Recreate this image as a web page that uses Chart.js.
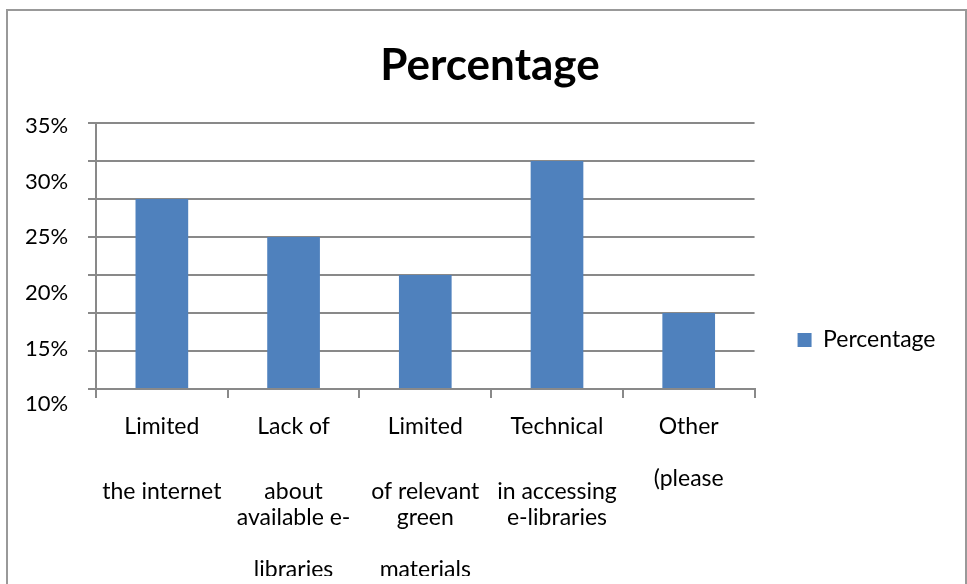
<!DOCTYPE html>
<html>
<head>
<meta charset="utf-8">
<title>Percentage</title>
<script src="https://cdn.jsdelivr.net/npm/chart.js@4.4.1/dist/chart.umd.min.js"></script>
<style>
    html, body { margin: 0; padding: 0; background: #fff; }
    #wrap { position: relative; width: 967px; height: 584px; overflow: hidden; }
    #frame { position: absolute; left: 6px; top: 9px; width: 957px; height: 640px; border: 2px solid #999; }
    #chart-box { position: absolute; left: 0; top: 0; width: 967px; height: 584px; }
</style>
</head>
<body>
<div id="wrap">
    <div id="frame"></div>
    <div id="chart-box"><canvas id="percentageChart"></canvas></div>
</div>
<script>
// Category labels, one line per entry (blank entries keep the line spacing)
const categories = [
    ["Limited", "", "", "", "", "the internet"],
    ["Lack of", "", "", "", "", "about", "", "available e-", "", "", "", "libraries"],
    ["Limited", "", "", "", "", "of relevant", "", "green", "", "", "", "materials"],
    ["Technical", "", "", "", "", "in accessing", "", "e-libraries"],
    ["Other", "", "", "", "(please"],
];

// Share of respondents per barrier (%)
const percentages = [25, 20, 15, 30, 10];

// Value axis range and the printed tick labels
const axisMin = 0;
const axisMax = 35;
const axisStep = 5;
const tickLabels = [10, 15, 20, 25, 30, 35];

const gridColor = "#898989";
const barColor = "#4f81bd";

Chart.defaults.font.family = "Lato";
Chart.defaults.color = "#000";

function renderPercentageChart() {
    const ctx = document.getElementById("percentageChart").getContext("2d");
    new Chart(ctx, {
        type: "bar",
        data: {
            labels: categories,
            datasets: [
                {
                    label: "Percentage",
                    data: percentages,
                    backgroundColor: barColor,
                    borderWidth: 0,
                    categoryPercentage: 0.8,
                    barPercentage: 0.5,
                },
            ],
        },
        options: {
            responsive: true,
            maintainAspectRatio: false,
            animation: false,
            layout: {
                padding: { left: 34.5, right: 21.5, top: 0, bottom: 8 },
            },
            plugins: {
                title: {
                    display: true,
                    text: "Percentage",
                    font: { size: 44, weight: "bold" },
                    color: "#000",
                    padding: { top: 39.6, bottom: 30.6 },
                },
                legend: {
                    display: true,
                    position: "right",
                    maxWidth: 300,
                    title: {
                        display: true,
                        text: "",
                        padding: { top: 89.6, bottom: 0 },
                    },
                    labels: {
                        boxWidth: 14,
                        boxHeight: 14,
                        padding: 43,
                        color: "#000",
                        font: { size: 23 },
                    },
                },
                tooltip: { enabled: false },
            },
            scales: {
                x: {
                    grid: {
                        drawOnChartArea: false,
                        color: gridColor,
                        lineWidth: 2,
                        tickLength: 9,
                    },
                    border: { color: gridColor, width: 2 },
                    ticks: {
                        maxRotation: 0,
                        autoSkip: false,
                        padding: 22,
                        color: "#000",
                        font: { size: 23, lineHeight: "13px" },
                    },
                    afterFit: (axis) => {
                        axis.height = 187;
                    },
                },
                y: {
                    position: "left",
                    weight: 0,
                    min: axisMin,
                    max: axisMax,
                    ticks: { display: false, stepSize: axisStep },
                    grid: { color: gridColor, lineWidth: 2, tickLength: 8 },
                    border: { color: gridColor, width: 2 },
                    afterFit: (axis) => {
                        axis.width = 8;
                    },
                },
                // printed percentage labels on their own left-hand scale
                yl: {
                    position: "left",
                    weight: 1,
                    min: 11.35,
                    max: 35.27,
                    grid: { display: false, drawTicks: false },
                    border: { display: false },
                    ticks: {
                        autoSkip: false,
                        mirror: true,
                        padding: -63,
                        color: "#000",
                        font: { size: 22 },
                        callback: (value) => value + "%",
                    },
                    afterBuildTicks: (axis) => {
                        axis.ticks = tickLabels.map((v) => ({ value: v }));
                    },
                    afterFit: (axis) => {
                        axis.width = 53.5;
                    },
                },
            },
        },
    });
}

document.addEventListener("DOMContentLoaded", () => {
    renderPercentageChart();
});
</script>
</body>
</html>
